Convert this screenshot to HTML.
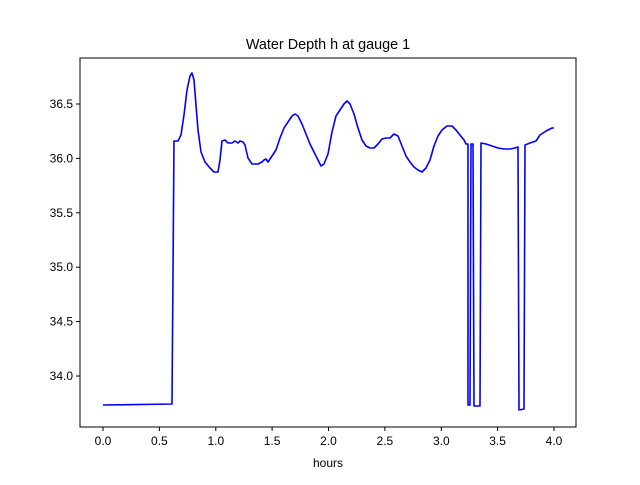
<!DOCTYPE html>
<html><head><meta charset="utf-8"><style>html,body{margin:0;padding:0;background:#fff}</style></head>
<body>
<svg width="640" height="480" xmlns="http://www.w3.org/2000/svg" font-family="Liberation Sans, DejaVu Sans, sans-serif">
<rect width="640" height="480" fill="#fff"/>
<polyline fill="none" stroke="#0000ff" stroke-width="1.6" stroke-linejoin="round" points="103,405 172,404 174,141 178,141 181,135 184,115 187,90 190,76 192,73 194,80 196,105 198,130 201,152 205,162 210,168 214,172 218,172 220,160 222,141 225,140 228,143 232,143 235,141 238,143 240,141 243,142 245,145 248,158 252,164 258,164 262,162 264,160 266,159 268,162 272,156 276,150 280,138 284,128 288,122 292,116 295,114 298,116 302,124 306,134 310,144 314,152 318,160 321,166 324,164 328,154 332,132 336,116 340,110 344,104 347,101 350,104 354,114 358,128 362,140 366,146 370,148 374,148 378,144 382,139 386,138 390,138 394,134 398,136 402,146 406,156 410,162 414,167 418,170 422,172 426,168 430,160 434,146 438,136 442,130 447,126 452,126 456,130 460,135 464,140 466,144 468,144 468,405 470,405 471,144 473,144 474,406 480,406 481,143 486,144 492,146 498,148 504,149 510,149 515,148 518,147 519,410 524,409 525,145 530,143 536,141 540,135 546,131 552,128 554,128"/>
<rect x="80" y="58" width="496" height="369" fill="none" stroke="#000" stroke-width="1"/>
<g stroke="#000" stroke-width="1">
<line x1="103" y1="427" x2="103" y2="431"/><line x1="159.4" y1="427" x2="159.4" y2="431"/><line x1="215.8" y1="427" x2="215.8" y2="431"/><line x1="272.1" y1="427" x2="272.1" y2="431"/><line x1="328.5" y1="427" x2="328.5" y2="431"/><line x1="384.9" y1="427" x2="384.9" y2="431"/><line x1="441.3" y1="427" x2="441.3" y2="431"/><line x1="497.6" y1="427" x2="497.6" y2="431"/><line x1="554" y1="427" x2="554" y2="431"/>
<line x1="76" y1="104" x2="80" y2="104"/><line x1="76" y1="158.4" x2="80" y2="158.4"/><line x1="76" y1="212.8" x2="80" y2="212.8"/><line x1="76" y1="267.2" x2="80" y2="267.2"/><line x1="76" y1="321.6" x2="80" y2="321.6"/><line x1="76" y1="376" x2="80" y2="376"/>
</g>
<g font-size="12" fill="#000" text-anchor="middle">
<text x="103" y="445">0.0</text><text x="159.4" y="445">0.5</text><text x="215.8" y="445">1.0</text><text x="272.1" y="445">1.5</text><text x="328.5" y="445">2.0</text><text x="384.9" y="445">2.5</text><text x="441.3" y="445">3.0</text><text x="497.6" y="445">3.5</text><text x="554" y="445">4.0</text>
<text x="328" y="467">hours</text>
</g>
<g font-size="12" fill="#000" text-anchor="end">
<text x="73" y="108">36.5</text><text x="73" y="162.4">36.0</text><text x="73" y="216.8">35.5</text><text x="73" y="271.2">35.0</text><text x="73" y="325.6">34.5</text><text x="73" y="380">34.0</text>
</g>
<text x="328" y="49" font-size="14.4" text-anchor="middle">Water Depth h at gauge 1</text>
</svg>
</body></html>
